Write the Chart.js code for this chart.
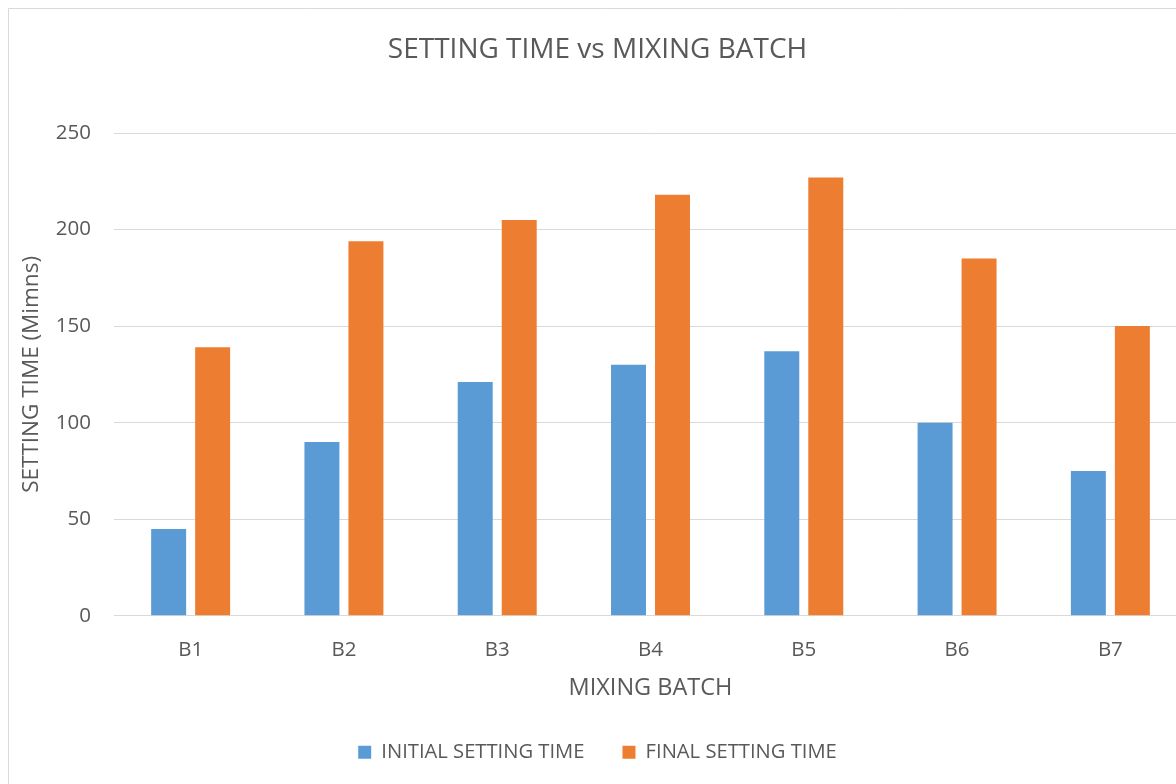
<!DOCTYPE html>
<html>
<head>
<meta charset="utf-8">
<style>
  html, body { margin: 0; padding: 0; background: #ffffff; overflow: hidden; }
  #wrap { position: absolute; left: 0; top: 0; width: 1196px; height: 784px; }
</style>
<script src="https://cdn.jsdelivr.net/npm/chart.js@4/dist/chart.umd.min.js"></script>
</head>
<body>
<div id="wrap"><canvas id="chart" width="1196" height="784"></canvas></div>
<script>
// Setting time (minutes) per mixing batch
const batches = ['B1', 'B2', 'B3', 'B4', 'B5', 'B6', 'B7'];
const initialSetting = [45, 90, 121, 130, 137, 100, 75];
const finalSetting = [139, 194, 205, 218, 227, 185, 150];
const yTicks = [0, 50, 100, 150, 200, 250];

const FONT = '"Open Sans", "Noto Sans", sans-serif';
const TEXT = '#595959';
const GRID = '#d9d9d9';

// White background with the light frame on the left and top edges
const framePlugin = {
  id: 'frame',
  beforeDraw(chart) {
    const ctx = chart.ctx;
    ctx.save();
    ctx.fillStyle = '#ffffff';
    ctx.fillRect(0, 0, chart.width, chart.height);
    ctx.strokeStyle = GRID;
    ctx.lineWidth = 1;
    ctx.beginPath();
    ctx.moveTo(8.5, chart.height);
    ctx.lineTo(8.5, 8.5);
    ctx.lineTo(chart.width, 8.5);
    ctx.stroke();
    ctx.restore();
  }
};

new Chart(document.getElementById('chart'), {
  type: 'bar',
  data: {
    labels: batches,
    datasets: [
      {
        label: 'INITIAL SETTING TIME',
        data: initialSetting,
        backgroundColor: '#5B9BD5',
        categoryPercentage: 0.574,
        barPercentage: 0.795
      },
      {
        label: 'FINAL SETTING TIME',
        data: finalSetting,
        backgroundColor: '#ED7D31',
        categoryPercentage: 0.574,
        barPercentage: 0.795
      }
    ]
  },
  options: {
    responsive: false,
    animation: false,
    devicePixelRatio: 1,
    layout: { padding: { left: 8, right: 9, top: 0, bottom: 11.6 } },
    plugins: {
      title: {
        display: true,
        text: 'SETTING TIME vs MIXING BATCH',
        color: TEXT,
        font: { family: FONT, size: 28, weight: 'normal' },
        padding: { top: 33, bottom: 66.4 }
      },
      legend: {
        position: 'bottom',
        labels: {
          color: TEXT,
          font: { family: FONT, size: 20.2 },
          boxWidth: 13,
          boxHeight: 13,
          padding: 38
        }
      },
      tooltip: { enabled: false }
    },
    scales: {
      x: {
        afterFit(scale) { scale.height = 88.4; },
        grid: { display: false, drawTicks: false },
        border: { display: true, color: GRID, width: 1 },
        ticks: { color: TEXT, font: { family: FONT, size: 20.5 }, padding: 22 },
        title: {
          display: true,
          text: 'MIXING BATCH',
          color: TEXT,
          font: { family: FONT, size: 23.5 },
          padding: { top: 10, bottom: 1.8 }
        }
      },
      y: {
        min: 0,
        max: 250,
        afterBuildTicks(scale) {
          scale.ticks = yTicks.map(v => ({ value: v }));
        },
        afterFit(scale) { scale.width = 106; },
        grid: { color: GRID, lineWidth: 1, drawTicks: false },
        border: { display: false },
        ticks: { color: TEXT, font: { family: FONT, size: 20.5 }, padding: 23 },
        title: {
          display: true,
          text: 'SETTING TIME (Mimns)',
          color: TEXT,
          font: { family: FONT, size: 22.5 },
          padding: { top: 10.5, bottom: 0 }
        }
      }
    }
  },
  plugins: [framePlugin]
});
</script>
</body>
</html>
